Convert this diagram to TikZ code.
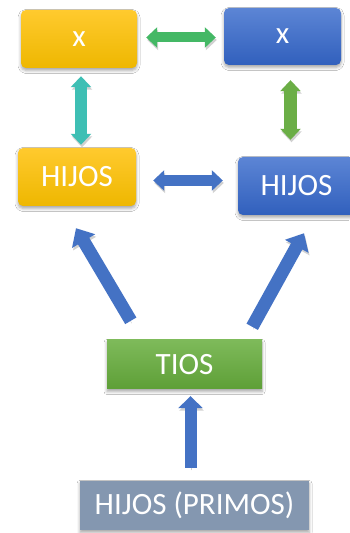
\documentclass[tikz,border=0pt]{standalone}
\usepackage{fontspec}
\setmainfont{Carlito}
\usetikzlibrary{arrows.meta,calc,shadows.blur}

\definecolor{goldtop}{HTML}{FFCA2E}
\definecolor{goldbot}{HTML}{EEB700}
\definecolor{royaltop}{HTML}{5C85D5}
\definecolor{royalbot}{HTML}{3160BD}
\definecolor{leaftop}{HTML}{7EBA5A}
\definecolor{leafbot}{HTML}{5E9F37}
\definecolor{slate}{HTML}{8497B0}
\definecolor{emerald}{HTML}{44B865}
\definecolor{teal}{HTML}{3EBFB4}
\definecolor{moss}{HTML}{6BAE46}
\definecolor{royal}{HTML}{4472C4}

\tikzset{
  card/.style={inner sep=0pt, text=white, font=\fontsize{31}{37}\selectfont,
    blur shadow={shadow xshift=0pt, shadow yshift=-2.5pt,
                 shadow blur radius=3pt, shadow opacity=35}},
  goldcard/.style={card, rounded corners=5pt, top color=goldtop, bottom color=goldbot},
  royalcard/.style={card, rounded corners=5pt, top color=royaltop, bottom color=royalbot},
  leafcard/.style={card, top color=leaftop, bottom color=leafbot},
  slatecard/.style={card, fill=slate},
  smalltip/.tip={Triangle[width=20pt,length=11pt]},
  bigtip/.tip={Triangle[width=26pt,length=15pt]},
  midtip/.tip={Triangle[width=24pt,length=12pt]},
  blockarrow/.style={line width=#1,
    preaction={draw=black!18, transform canvas={shift={(1pt,-2.5pt)}}}},
}

\begin{document}
\begin{tikzpicture}[x=1pt,y=1pt]
  \useasboundingbox (0,0) rectangle (349,533);
  \fill[white] (0,0) rectangle (349,533);

  % family boxes
  \node[goldcard, minimum width=116pt, minimum height=58pt] (tlx) at (79,494) {x};
  \node[royalcard, minimum width=117pt, minimum height=57pt] (trx) at (282.5,496.5) {x};
  \node[goldcard, minimum width=118pt, minimum height=58pt] (lh) at (77,356) {HIJOS};
  \node[royalcard, minimum width=117pt, minimum height=58pt] (rh) at (296.5,347) {HIJOS};
  \node[leafcard, minimum width=155pt, minimum height=49pt] (tios) at (184.5,168.5) {TIOS};
  \node[slatecard, minimum width=229pt, minimum height=49pt] (primos) at (194.5,27.5) {HIJOS (PRIMOS)};

  % two-way links between the couples and their children
  \draw[blockarrow=10pt, draw=emerald, smalltip-smalltip]
    ($(tlx.east)+(9,1.5)$) -- ($(trx.west)+(-8,-1)$);
  \draw[blockarrow=12pt, draw=teal, smalltip-smalltip]
    ($(tlx.south)+(2,-8)$) -- ($(lh.north)+(4,3)$);
  \draw[blockarrow=13pt, draw=moss, smalltip-smalltip]
    ($(trx.south)+(8,-15)$) -- ($(rh.north)+(-6,17)$);
  \draw[blockarrow=11pt, draw=royal, smalltip-smalltip]
    ($(lh.east)+(17,-3.5)$) -- ($(rh.west)+(-15,5.5)$);

  % upward links
  \draw[blockarrow=13pt, draw=royal, -bigtip]
    ($(tios.north west)+(24,19)$) -- ($(lh.south)+(-1,-22)$);
  \draw[blockarrow=13pt, draw=royal, -bigtip]
    ($(tios.north east)+(-10,13)$) -- ($(rh.south)+(7.5,-18)$);
  \draw[blockarrow=12pt, draw=royal, -midtip]
    ($(primos.north)+(-4,13)$) -- ($(tios.south)+(6,-7)$);
\end{tikzpicture}
\end{document}
